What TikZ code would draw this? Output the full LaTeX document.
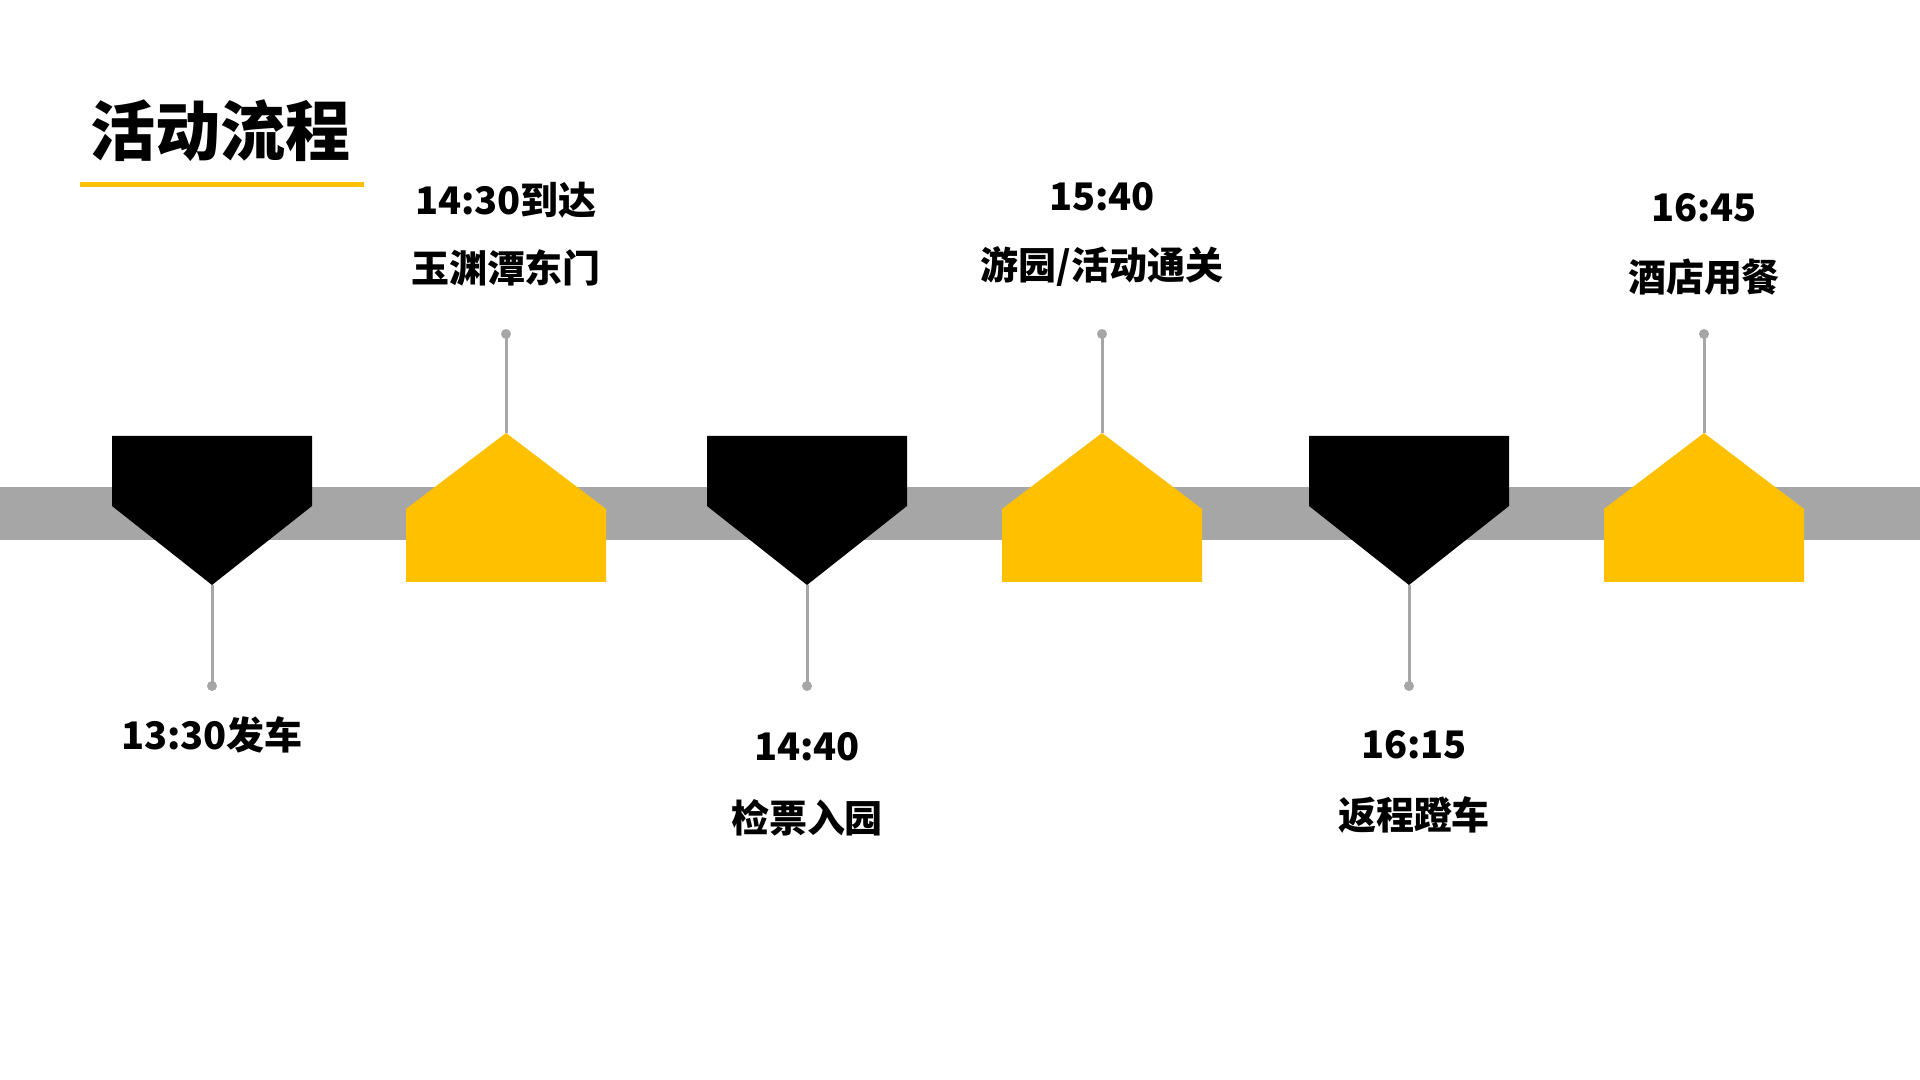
\documentclass[tikz,border=0pt]{standalone}
\usepackage{fontspec}
\newfontfamily\cjk{Noto Sans CJK SC}
\definecolor{tyellow}{HTML}{FFC000}
\definecolor{tgray}{HTML}{A6A6A6}
\tikzset{
  lbl/.style={font=\cjk\bfseries\fontsize{10.8pt}{13pt}\selectfont, inner sep=0pt, anchor=center},
  ttl/.style={font=\cjk\bfseries\fontsize{18.5pt}{22pt}\selectfont, inner sep=0pt, anchor=west},
  stem/.style={draw=tgray, line width=0.03cm},
  dotc/.style={fill=tgray},
  blk/.style={fill=black},
  ylw/.style={fill=tyellow}
}
\begin{document}
\begin{tikzpicture}[x=0.01cm,y=-0.01cm]
\path[use as bounding box, fill=white] (0,0) rectangle (1920,1080);
% title
\node[ttl] (title) at (90,131) {活动流程};
\draw[tyellow, line width=0.05cm] (80,185) -- (364,185);
% bar
\fill[tgray] (0,487) rectangle (1920,540);
% black pentagons
\foreach \c/\n in {212/a,807/c,1409/e}{
  \fill[blk] (\c-100,436) -- (\c+100,436) -- (\c+100,506) -- (\c,585) -- (\c-100,506) -- cycle;
  \coordinate (tip\n) at (\c,585);
  \coordinate (dot\n) at (\c,686);
  \draw[stem] (tip\n) -- (dot\n);
  \fill[dotc] (dot\n) circle (5);
}
% yellow pentagons
\foreach \c/\n in {506/b,1102/d,1704/f}{
  \fill[ylw] (\c,433) -- (\c+100,509) -- (\c+100,582) -- (\c-100,582) -- (\c-100,509) -- cycle;
  \coordinate (tip\n) at (\c,433);
  \coordinate (dot\n) at (\c,334);
  \draw[stem] (tip\n) -- (dot\n);
  \fill[dotc] (dot\n) circle (5);
}
% labels
\node[lbl] (la) at (212,735) {13:30发车};
\node[lbl] (lb1) at (506,200) {14:30到达};
\node[lbl] (lb2) at (506,268) {玉渊潭东门};
\node[lbl] (lc1) at (807,747) {14:40};
\node[lbl] (lc2) at (807,818) {检票入园};
\node[lbl] (ld1) at (1102,197) {15:40};
\node[lbl] (ld2) at (1102,267) {游园/活动通关};
\node[lbl] (le1) at (1414,745) {16:15};
\node[lbl] (le2) at (1414,815) {返程蹬车};
\node[lbl] (lf1) at (1704,208) {16:45};
\node[lbl] (lf2) at (1704,277) {酒店用餐};
\end{tikzpicture}
\end{document}
